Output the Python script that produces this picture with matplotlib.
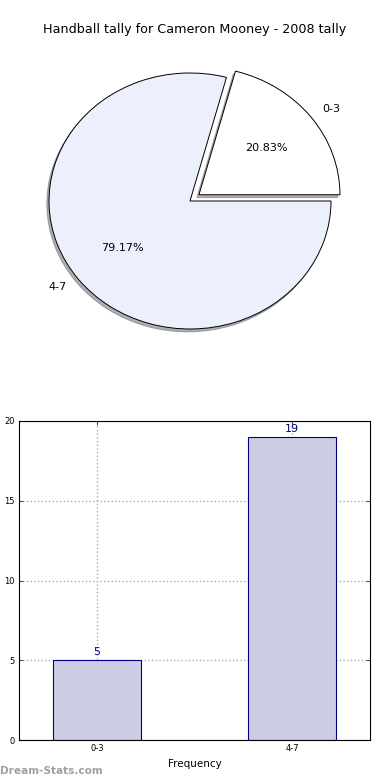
import matplotlib
matplotlib.use("Agg")
import matplotlib.pyplot as plt

title = "Handball tally for Cameron Mooney - 2008 tally"
pie_labels = ["0-3", "4-7"]
pie_values = [5, 19]
pie_colors = ["#FFFFFF", "#EBF0FC"]
pie_explode = [0.08, 0.0]

bar_cats = ["0-3", "4-7"]
bar_values = [5, 19]
yticks = [0, 5, 10, 15, 20]

fig = plt.figure(figsize=(3.9, 7.8), dpi=100)

# Pie
cx, cy = 190/390, 1 - 201/780
rx, ry = 141/390, 128/780
L = 1.3
axp = fig.add_axes([cx - rx*L, cy - ry*L, 2*rx*L, 2*ry*L])
wedges, texts, autotexts = axp.pie(pie_values, labels=pie_labels, colors=pie_colors,
                                   explode=pie_explode, autopct="%1.2f%%",
                                   shadow=dict(ox=-0.011, oy=-0.016, shade=0.6),
                                   startangle=0, counterclock=True,
                                   wedgeprops=dict(edgecolor="black", linewidth=0.7),
                                   textprops=dict(fontsize=8))
axp.set_aspect("auto")
axp.set_xlim(-L, L)
axp.set_ylim(-L, L)
axp.axis("off")
fig.text(0.5, 1 - 30/780, title, ha="center", va="center", fontsize=9.2)

# Bars
axb = fig.add_axes([19/390, 1 - 740/780, (370-19)/390, (740-421)/780])
x = list(range(len(bar_cats)))
bars = axb.bar(x, bar_values, width=0.45, color="#CCCCE5", edgecolor="#000080", linewidth=0.8, zorder=2)
for xi, v in zip(x, bar_values):
    axb.text(xi, v + 0.2, str(v), ha="center", va="bottom", color="#000080", fontsize=8)
axb.set_xlim(-0.4, 1.4)
axb.set_ylim(0, 20)
axb.set_xticks(x)
axb.set_xticklabels(bar_cats, fontsize=6)
axb.set_yticks(yticks)
axb.set_yticklabels([str(t) for t in yticks], fontsize=6)
axb.tick_params(direction="in", length=3, width=0.5, top=True, right=True, pad=3)
axb.grid(True, linestyle=":", color="#AAAAAA", linewidth=1.0, zorder=0)
axb.set_axisbelow(True)
axb.set_xlabel("Frequency", fontsize=7.5, labelpad=4)
axb.set_ylabel("Stat Index Value", fontsize=7.5)
axb.yaxis.set_label_coords(-0.06, 0.5)
for s in axb.spines.values():
    s.set_linewidth(0.8)

fig.text(0.0, 1 - 771/780, "Dream-Stats.com", ha="left", va="center", fontsize=7.6,
         fontweight="bold", color="#A0A0A0")

fig.savefig("out.png", dpi=100)
